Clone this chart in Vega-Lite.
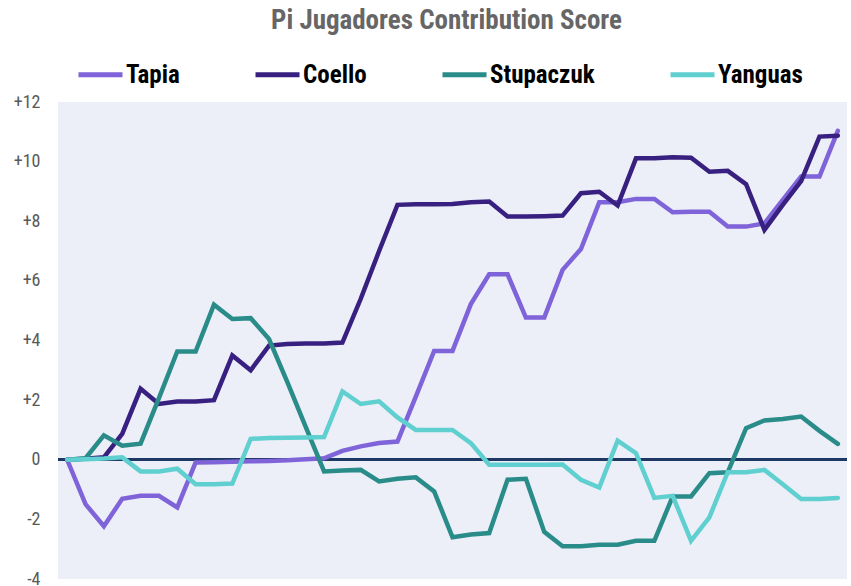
{
  "$schema": "https://vega.github.io/schema/vega-lite/v6.json",
  "width": 789,
  "height": 477,
  "autosize": "none",
  "padding": {"left": 58, "top": 102, "right": 4, "bottom": 7},
  "background": "white",
  "title": {
    "text": "Pi Jugadores Contribution Score",
    "font": "Roboto Condensed, Liberation Sans",
    "fontSize": 27,
    "fontWeight": "bold",
    "color": "#666666",
    "anchor": "middle",
    "offset": 15,
    "dx": -6
  },
  "config": {
    "view": {"stroke": null, "fill": "#ECEEF8"},
    "font": "Roboto Condensed, Liberation Sans"
  },
  "datasets": {
    "scores": [
      {"game": 0, "player": "Tapia", "score": 0},
      {"game": 1, "player": "Tapia", "score": -1.49},
      {"game": 2, "player": "Tapia", "score": -2.23},
      {"game": 3, "player": "Tapia", "score": -1.31},
      {"game": 4, "player": "Tapia", "score": -1.21},
      {"game": 5, "player": "Tapia", "score": -1.21},
      {"game": 6, "player": "Tapia", "score": -1.6},
      {"game": 7, "player": "Tapia", "score": -0.09},
      {"game": 8, "player": "Tapia", "score": -0.08},
      {"game": 9, "player": "Tapia", "score": -0.07},
      {"game": 10, "player": "Tapia", "score": -0.05},
      {"game": 11, "player": "Tapia", "score": -0.04},
      {"game": 12, "player": "Tapia", "score": -0.02},
      {"game": 13, "player": "Tapia", "score": 0.02},
      {"game": 14, "player": "Tapia", "score": 0.05},
      {"game": 15, "player": "Tapia", "score": 0.3},
      {"game": 16, "player": "Tapia", "score": 0.45},
      {"game": 17, "player": "Tapia", "score": 0.56},
      {"game": 18, "player": "Tapia", "score": 0.61},
      {"game": 19, "player": "Tapia", "score": 2.12},
      {"game": 20, "player": "Tapia", "score": 3.65},
      {"game": 21, "player": "Tapia", "score": 3.65},
      {"game": 22, "player": "Tapia", "score": 5.22},
      {"game": 23, "player": "Tapia", "score": 6.22},
      {"game": 24, "player": "Tapia", "score": 6.22},
      {"game": 25, "player": "Tapia", "score": 4.77},
      {"game": 26, "player": "Tapia", "score": 4.77},
      {"game": 27, "player": "Tapia", "score": 6.37},
      {"game": 28, "player": "Tapia", "score": 7.07},
      {"game": 29, "player": "Tapia", "score": 8.64},
      {"game": 30, "player": "Tapia", "score": 8.64},
      {"game": 31, "player": "Tapia", "score": 8.75},
      {"game": 32, "player": "Tapia", "score": 8.75},
      {"game": 33, "player": "Tapia", "score": 8.3},
      {"game": 34, "player": "Tapia", "score": 8.32},
      {"game": 35, "player": "Tapia", "score": 8.32},
      {"game": 36, "player": "Tapia", "score": 7.82},
      {"game": 37, "player": "Tapia", "score": 7.82},
      {"game": 38, "player": "Tapia", "score": 7.93},
      {"game": 39, "player": "Tapia", "score": 8.72},
      {"game": 40, "player": "Tapia", "score": 9.5},
      {"game": 41, "player": "Tapia", "score": 9.5},
      {"game": 42, "player": "Tapia", "score": 11.03},
      {"game": 0, "player": "Coello", "score": 0},
      {"game": 1, "player": "Coello", "score": 0.03},
      {"game": 2, "player": "Coello", "score": 0.08},
      {"game": 3, "player": "Coello", "score": 0.87},
      {"game": 4, "player": "Coello", "score": 2.38},
      {"game": 5, "player": "Coello", "score": 1.87},
      {"game": 6, "player": "Coello", "score": 1.95},
      {"game": 7, "player": "Coello", "score": 1.95},
      {"game": 8, "player": "Coello", "score": 2.0},
      {"game": 9, "player": "Coello", "score": 3.5},
      {"game": 10, "player": "Coello", "score": 3.0},
      {"game": 11, "player": "Coello", "score": 3.83},
      {"game": 12, "player": "Coello", "score": 3.88},
      {"game": 13, "player": "Coello", "score": 3.9},
      {"game": 14, "player": "Coello", "score": 3.9},
      {"game": 15, "player": "Coello", "score": 3.93},
      {"game": 16, "player": "Coello", "score": 5.4},
      {"game": 17, "player": "Coello", "score": 7.0},
      {"game": 18, "player": "Coello", "score": 8.55},
      {"game": 19, "player": "Coello", "score": 8.57},
      {"game": 20, "player": "Coello", "score": 8.57},
      {"game": 21, "player": "Coello", "score": 8.58},
      {"game": 22, "player": "Coello", "score": 8.64},
      {"game": 23, "player": "Coello", "score": 8.66},
      {"game": 24, "player": "Coello", "score": 8.16},
      {"game": 25, "player": "Coello", "score": 8.16},
      {"game": 26, "player": "Coello", "score": 8.17},
      {"game": 27, "player": "Coello", "score": 8.19},
      {"game": 28, "player": "Coello", "score": 8.94},
      {"game": 29, "player": "Coello", "score": 8.99},
      {"game": 30, "player": "Coello", "score": 8.53},
      {"game": 31, "player": "Coello", "score": 10.11},
      {"game": 32, "player": "Coello", "score": 10.11},
      {"game": 33, "player": "Coello", "score": 10.15},
      {"game": 34, "player": "Coello", "score": 10.13},
      {"game": 35, "player": "Coello", "score": 9.66},
      {"game": 36, "player": "Coello", "score": 9.69},
      {"game": 37, "player": "Coello", "score": 9.24},
      {"game": 38, "player": "Coello", "score": 7.71},
      {"game": 39, "player": "Coello", "score": 8.55},
      {"game": 40, "player": "Coello", "score": 9.35},
      {"game": 41, "player": "Coello", "score": 10.84},
      {"game": 42, "player": "Coello", "score": 10.87},
      {"game": 0, "player": "Stupaczuk", "score": 0},
      {"game": 1, "player": "Stupaczuk", "score": 0.05},
      {"game": 2, "player": "Stupaczuk", "score": 0.82},
      {"game": 3, "player": "Stupaczuk", "score": 0.47},
      {"game": 4, "player": "Stupaczuk", "score": 0.54},
      {"game": 5, "player": "Stupaczuk", "score": 2.07},
      {"game": 6, "player": "Stupaczuk", "score": 3.63},
      {"game": 7, "player": "Stupaczuk", "score": 3.63},
      {"game": 8, "player": "Stupaczuk", "score": 5.2},
      {"game": 9, "player": "Stupaczuk", "score": 4.72},
      {"game": 10, "player": "Stupaczuk", "score": 4.75},
      {"game": 11, "player": "Stupaczuk", "score": 4.05},
      {"game": 12, "player": "Stupaczuk", "score": 2.6},
      {"game": 13, "player": "Stupaczuk", "score": 1.1},
      {"game": 14, "player": "Stupaczuk", "score": -0.39},
      {"game": 15, "player": "Stupaczuk", "score": -0.36},
      {"game": 16, "player": "Stupaczuk", "score": -0.34},
      {"game": 17, "player": "Stupaczuk", "score": -0.73},
      {"game": 18, "player": "Stupaczuk", "score": -0.64},
      {"game": 19, "player": "Stupaczuk", "score": -0.59},
      {"game": 20, "player": "Stupaczuk", "score": -1.06},
      {"game": 21, "player": "Stupaczuk", "score": -2.6},
      {"game": 22, "player": "Stupaczuk", "score": -2.51},
      {"game": 23, "player": "Stupaczuk", "score": -2.46},
      {"game": 24, "player": "Stupaczuk", "score": -0.67},
      {"game": 25, "player": "Stupaczuk", "score": -0.64},
      {"game": 26, "player": "Stupaczuk", "score": -2.42},
      {"game": 27, "player": "Stupaczuk", "score": -2.9},
      {"game": 28, "player": "Stupaczuk", "score": -2.9},
      {"game": 29, "player": "Stupaczuk", "score": -2.85},
      {"game": 30, "player": "Stupaczuk", "score": -2.85},
      {"game": 31, "player": "Stupaczuk", "score": -2.72},
      {"game": 32, "player": "Stupaczuk", "score": -2.72},
      {"game": 33, "player": "Stupaczuk", "score": -1.23},
      {"game": 34, "player": "Stupaczuk", "score": -1.23},
      {"game": 35, "player": "Stupaczuk", "score": -0.45},
      {"game": 36, "player": "Stupaczuk", "score": -0.42},
      {"game": 37, "player": "Stupaczuk", "score": 1.06},
      {"game": 38, "player": "Stupaczuk", "score": 1.32},
      {"game": 39, "player": "Stupaczuk", "score": 1.37},
      {"game": 40, "player": "Stupaczuk", "score": 1.45},
      {"game": 41, "player": "Stupaczuk", "score": 0.97},
      {"game": 42, "player": "Stupaczuk", "score": 0.53},
      {"game": 0, "player": "Yanguas", "score": 0},
      {"game": 1, "player": "Yanguas", "score": 0.02},
      {"game": 2, "player": "Yanguas", "score": 0.04},
      {"game": 3, "player": "Yanguas", "score": 0.08},
      {"game": 4, "player": "Yanguas", "score": -0.39},
      {"game": 5, "player": "Yanguas", "score": -0.39},
      {"game": 6, "player": "Yanguas", "score": -0.3},
      {"game": 7, "player": "Yanguas", "score": -0.82},
      {"game": 8, "player": "Yanguas", "score": -0.82},
      {"game": 9, "player": "Yanguas", "score": -0.8},
      {"game": 10, "player": "Yanguas", "score": 0.7},
      {"game": 11, "player": "Yanguas", "score": 0.73},
      {"game": 12, "player": "Yanguas", "score": 0.74},
      {"game": 13, "player": "Yanguas", "score": 0.75},
      {"game": 14, "player": "Yanguas", "score": 0.76},
      {"game": 15, "player": "Yanguas", "score": 2.29},
      {"game": 16, "player": "Yanguas", "score": 1.87},
      {"game": 17, "player": "Yanguas", "score": 1.96},
      {"game": 18, "player": "Yanguas", "score": 1.42},
      {"game": 19, "player": "Yanguas", "score": 1.0},
      {"game": 20, "player": "Yanguas", "score": 1.0},
      {"game": 21, "player": "Yanguas", "score": 1.0},
      {"game": 22, "player": "Yanguas", "score": 0.56},
      {"game": 23, "player": "Yanguas", "score": -0.17},
      {"game": 24, "player": "Yanguas", "score": -0.17},
      {"game": 25, "player": "Yanguas", "score": -0.17},
      {"game": 26, "player": "Yanguas", "score": -0.17},
      {"game": 27, "player": "Yanguas", "score": -0.16},
      {"game": 28, "player": "Yanguas", "score": -0.67},
      {"game": 29, "player": "Yanguas", "score": -0.93},
      {"game": 30, "player": "Yanguas", "score": 0.64},
      {"game": 31, "player": "Yanguas", "score": 0.22},
      {"game": 32, "player": "Yanguas", "score": -1.28},
      {"game": 33, "player": "Yanguas", "score": -1.21},
      {"game": 34, "player": "Yanguas", "score": -2.72},
      {"game": 35, "player": "Yanguas", "score": -1.93},
      {"game": 36, "player": "Yanguas", "score": -0.42},
      {"game": 37, "player": "Yanguas", "score": -0.42},
      {"game": 38, "player": "Yanguas", "score": -0.34},
      {"game": 39, "player": "Yanguas", "score": -0.82},
      {"game": 40, "player": "Yanguas", "score": -1.32},
      {"game": 41, "player": "Yanguas", "score": -1.32},
      {"game": 42, "player": "Yanguas", "score": -1.28}
    ]
  },
  "data": {"name": "scores"},
  "layer": [
    {
      "mark": {"type": "rule", "color": "#1F3864", "strokeWidth": 2},
      "encoding": {"y": {"datum": 0, "type": "quantitative"}}
    },
    {
      "mark": {"type": "line", "strokeWidth": 4.5, "strokeCap": "round"},
      "encoding": {
        "x": {
          "field": "game",
          "type": "quantitative",
          "scale": {"domain": [-0.5, 42.5], "nice": false, "zero": false},
          "axis": null
        },
        "y": {
          "field": "score",
          "type": "quantitative",
          "scale": {"domain": [-4, 12], "nice": false},
          "axis": {
            "title": null,
            "values": [-4, -2, 0, 2, 4, 6, 8, 10, 12],
            "labelExpr": "datum.value > 0 ? '+' + datum.value : '' + datum.value",
            "domain": false,
            "ticks": false,
            "labelPadding": 18,
            "labelFontSize": 18,
            "labelColor": "#595959",
            "gridColor": "#D9D9D9",
            "gridWidth": 1.5
          }
        },
        "color": {
          "field": "player",
          "type": "nominal",
          "sort": ["Tapia", "Coello", "Stupaczuk", "Yanguas"],
          "scale": {
            "domain": ["Tapia", "Coello", "Stupaczuk", "Yanguas"],
            "range": ["#7E63D9", "#37207F", "#2A8C89", "#5FCFCF"]
          },
          "legend": {
            "title": null,
            "orient": "none",
            "legendX": 18,
            "legendY": -52,
            "direction": "horizontal",
            "symbolType": "stroke",
            "symbolSize": 1936,
            "symbolStrokeWidth": 5,
            "labelFontSize": 25,
            "labelFontWeight": "bold",
            "labelColor": "#000000",
            "labelOffset": 1,
            "columnPadding": 65
          }
        }
      }
    }
  ]
}
